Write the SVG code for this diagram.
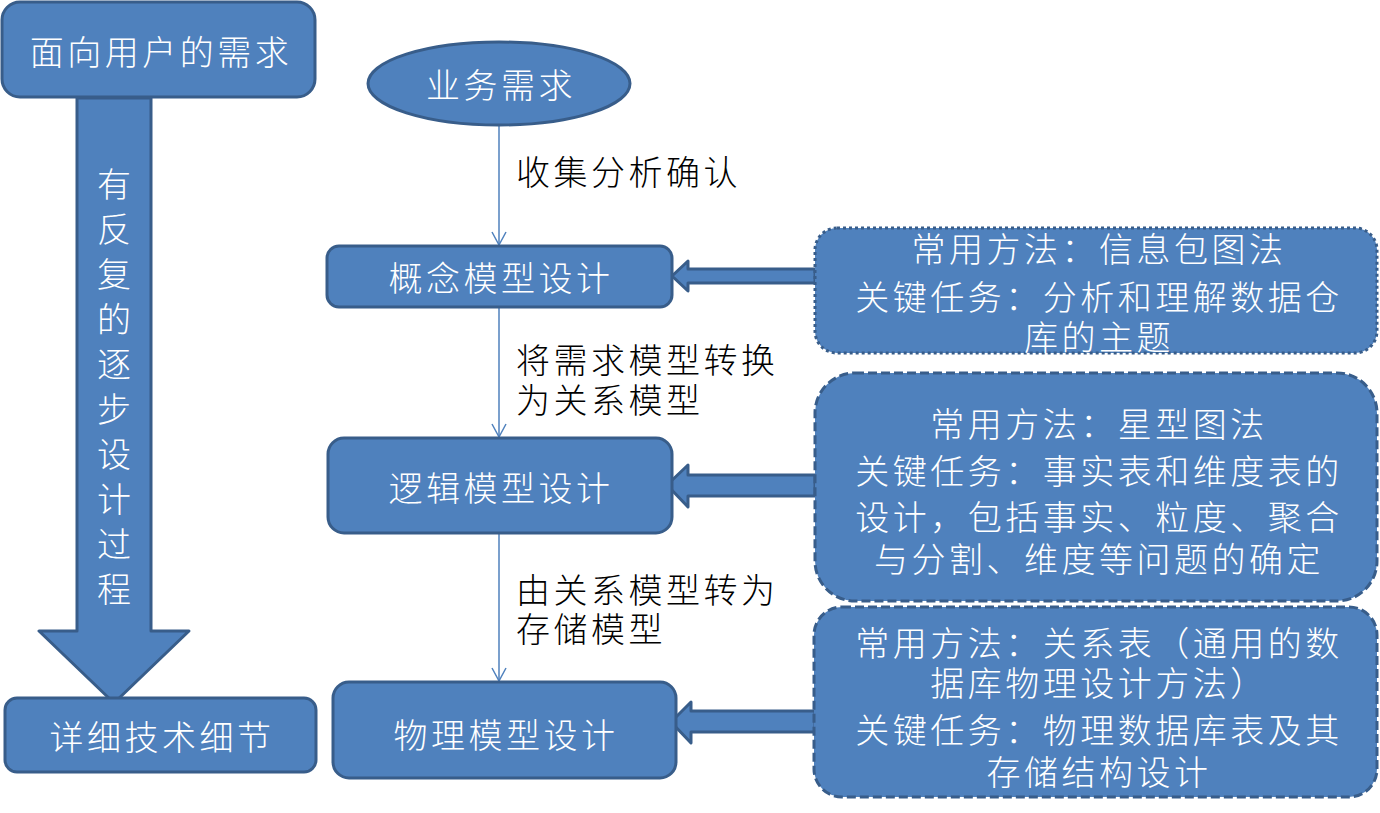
<svg xmlns="http://www.w3.org/2000/svg" width="1380" height="813" viewBox="0 0 1380 813">
<style>
.shape{fill:#4F81BD;stroke:#385D8A;stroke-width:3;stroke-linejoin:round}
.dot{stroke-dasharray:3 3}
.dash{stroke-dasharray:9 4}
.wt{font-family:"Noto Sans CJK SC","Noto Sans",sans-serif;font-size:34px;fill:#FFFFFF;text-anchor:middle;dominant-baseline:central;letter-spacing:3.5px;font-weight:300}
.bt{font-family:"Noto Sans CJK SC","Noto Sans",sans-serif;font-size:34px;fill:#000000;dominant-baseline:central;letter-spacing:3.5px;font-weight:300}
.vt{font-family:"Noto Sans CJK SC","Noto Sans",sans-serif;font-size:34px;fill:#FFFFFF;text-anchor:middle;dominant-baseline:central;font-weight:300}
.conn{stroke:#4F81BD;stroke-width:1.5;fill:none}
</style>
<defs>
<marker id="open" markerWidth="16" markerHeight="16" refX="14" refY="8" orient="auto" markerUnits="userSpaceOnUse" viewBox="0 0 16 16">
<path d="M1,1 L14,8 L1,15" fill="none" stroke="#4F81BD" stroke-width="1.5"/>
</marker>
</defs>
<rect width="1380" height="813" fill="#FFFFFF"/>

<g id="connectors">
<line class="conn" x1="499" y1="125" x2="499" y2="245" marker-end="url(#open)"/>
<line class="conn" x1="499" y1="307" x2="499" y2="437" marker-end="url(#open)"/>
<line class="conn" x1="499" y1="533" x2="499" y2="681" marker-end="url(#open)"/>
<text class="bt" x="516" y="170">收集分析确认</text>
<text class="bt" x="516" y="358">将需求模型转换</text>
<text class="bt" x="516" y="398">为关系模型</text>
<text class="bt" x="516" y="588">由关系模型转为</text>
<text class="bt" x="516" y="627">存储模型</text>
<polygon class="shape" points="815,269 688,269 688,261 672,276 688,291 688,283 815,283"/>
<polygon class="shape" points="815,475 688,475 688,465 667,485 688,507 688,496 815,496"/>
<polygon class="shape" points="815,711 691,711 691,702 671,722 691,743 691,732 815,732"/>
</g>

<g id="progress-arrow">
<polygon class="shape" points="77,98 151,98 151,631 189,631 114,703 39,631 77,631"/>
<text class="vt">
<tspan x="114" y="182">有</tspan><tspan x="114" y="227">反</tspan><tspan x="114" y="272">复</tspan><tspan x="114" y="317">的</tspan><tspan x="114" y="362">逐</tspan><tspan x="114" y="407">步</tspan><tspan x="114" y="452">设</tspan><tspan x="114" y="497">计</tspan><tspan x="114" y="542">过</tspan><tspan x="114" y="587">程</tspan>
</text>
</g>

<g id="user-demand">
<rect class="shape" x="2" y="2" width="313" height="95" rx="18"/>
<text class="wt" x="161" y="50">面向用户的需求</text>
</g>

<g id="detail">
<rect class="shape" x="5" y="698" width="311" height="74" rx="12"/>
<text class="wt" x="162" y="735">详细技术细节</text>
</g>

<g id="business">
<ellipse class="shape" cx="499" cy="83.5" rx="131" ry="41.5"/>
<text class="wt" x="501" y="83">业务需求</text>
</g>

<g id="concept">
<rect class="shape" x="327" y="246" width="345" height="61" rx="12"/>
<text class="wt" x="501" y="276">概念模型设计</text>
</g>

<g id="logic">
<rect class="shape" x="328" y="438" width="344" height="95" rx="16"/>
<text class="wt" x="501" y="486">逻辑模型设计</text>
</g>

<g id="physical">
<rect class="shape" x="333" y="682" width="343" height="96" rx="16"/>
<text class="wt" x="506" y="733">物理模型设计</text>
</g>

<g id="note-concept">
<rect class="shape dot" x="815" y="228" width="562" height="125" rx="22"/>
<text class="wt" x="1099" y="247">常用方法：信息包图法</text>
<text class="wt" x="1099" y="295">关键任务：分析和理解数据仓</text>
<text class="wt" x="1099" y="335">库的主题</text>
</g>

<g id="note-logic">
<rect class="shape dash" x="815" y="373" width="562" height="228" rx="40"/>
<text class="wt" x="1099" y="422">常用方法：星型图法</text>
<text class="wt" x="1099" y="469">关键任务：事实表和维度表的</text>
<text class="wt" x="1099" y="515">设计，包括事实、粒度、聚合</text>
<text class="wt" x="1099" y="557">与分割、维度等问题的确定</text>
</g>

<g id="note-physical">
<rect class="shape dash" x="814" y="607" width="563" height="190" rx="28"/>
<text class="wt" x="1099" y="641">常用方法：关系表（通用的数</text>
<text class="wt" x="1099" y="681">据库物理设计方法）</text>
<text class="wt" x="1099" y="728">关键任务：物理数据库表及其</text>
<text class="wt" x="1099" y="770">存储结构设计</text>
</g>
</svg>
